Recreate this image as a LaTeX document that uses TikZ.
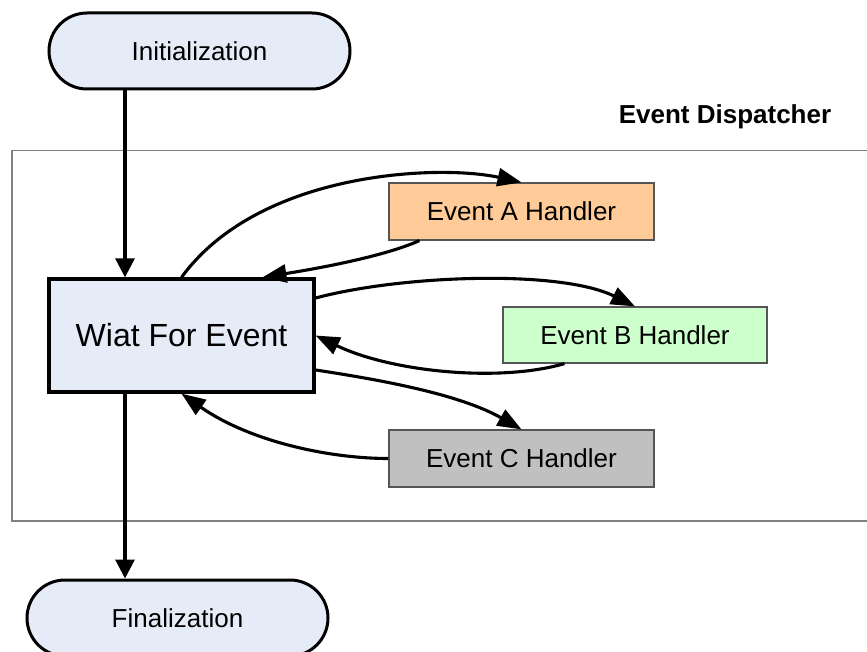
\documentclass[tikz,border=0pt]{standalone}
\usepackage{fontspec}
\setmainfont{Liberation Sans}
\usetikzlibrary{arrows.meta,calc}
\definecolor{termfill}{HTML}{E6ECF7}
\definecolor{fillA}{HTML}{FFCC99}
\definecolor{fillB}{HTML}{CCFFCC}
\definecolor{fillC}{HTML}{C0C0C0}
\definecolor{edgegray}{HTML}{555555}
\definecolor{framegray}{HTML}{808080}
\tikzset{
  labelfont/.style={font=\fontsize{26}{31}\selectfont},
  terminal/.style={draw, line width=3pt, fill=termfill, rounded corners=38pt,
    minimum width=301pt, minimum height=76pt, inner sep=0pt, labelfont},
  waitbox/.style={draw, line width=3.3pt, fill=termfill,
    minimum width=265pt, minimum height=113pt, inner sep=0pt,
    font=\fontsize{32}{37}\selectfont},
  handler/.style={draw=edgegray, line width=1.2pt,
    minimum width=265pt, minimum height=57pt, inner sep=0pt, labelfont},
  flow/.style={line width=3.1pt, -{Triangle[length=19pt,width=19pt]}},
  loop/.style={line width=3.1pt, -{Triangle[length=24pt,width=18pt]}},
}
\begin{document}
\begin{tikzpicture}[x=1pt,y=-1pt]
\useasboundingbox (0,0) rectangle (867,652);
\clip (0,0) rectangle (867,652);

% dispatcher frame (runs off the right edge)
\node[draw=framegray, line width=1.5pt, minimum width=890pt, minimum height=370pt,
      inner sep=0pt, anchor=north west] (frame) at (11,150) {};
\node[font=\bfseries\fontsize{26}{31}\selectfont] (title) at (725,117) {Event Dispatcher};

% main flow
\node[terminal] (init) at (199.5,51) {Initialization};
\node[waitbox] (wait) at (181.5,335.5) {Wiat For Event};
\node[terminal] (fin) at (177.5,618) {Finalization};

% handlers
\node[handler, fill=fillA] (ha) at (521.5,211.5) {Event A Handler};
\node[handler, fill=fillB, minimum width=264pt, minimum height=56pt] (hb) at (635,335) {Event B Handler};
\node[handler, fill=fillC] (hc) at (521.5,458.5) {Event C Handler};

% vertical trunk
\coordinate (trunk) at (125,0);
\draw[flow] (trunk |- init.south) -- (trunk |- wait.north);
\draw[flow] (trunk |- wait.south) -- (trunk |- fin.north);

% dispatch loops
\draw[loop] (wait.north) .. controls +(78,-107) and +(-81,-18) .. (ha.north);
\draw[loop] ([xshift=31pt]ha.south west) .. controls +(-40,18) and +(37,-6) .. ([xshift=81pt]wait.north);
\draw[loop] ([yshift=37.5pt]wait.east) .. controls +(86,-23) and +(-75,-37) .. (hb.north);
\draw[loop] ([xshift=62pt]hb.south west) .. controls +(-65,19) and +(76,36.5) .. (wait.east);
\draw[loop] ([yshift=-34.5pt]wait.east) .. controls +(66,10) and +(-61.5,-35) .. (hc.north);
\draw[loop] (hc.west) .. controls +(-59,0) and +(68.5,48) .. (wait.south);
\end{tikzpicture}
\end{document}
